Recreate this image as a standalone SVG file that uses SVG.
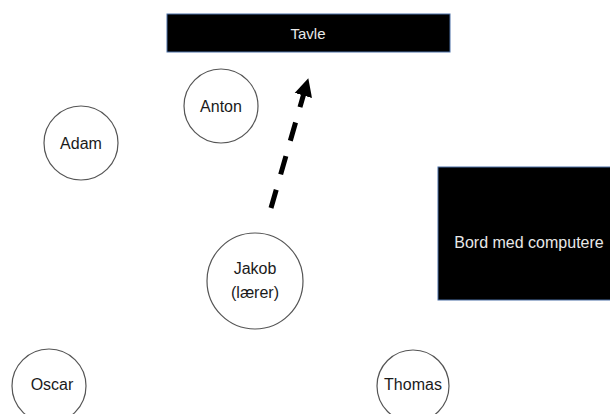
<svg xmlns="http://www.w3.org/2000/svg" width="610" height="414" viewBox="0 0 610 414">
  <style>
    .seat circle { fill: #ffffff; stroke: #555555; stroke-width: 1.2; }
    .seat text { font-family: "Liberation Sans", Arial, sans-serif; font-size: 16px; fill: #1a1a1a; text-anchor: middle; dominant-baseline: central; }
    .block rect { fill: #000000; stroke: #4a6fa5; stroke-width: 1; }
    .block text { font-family: "Liberation Sans", Arial, sans-serif; fill: #e8e8e8; text-anchor: middle; dominant-baseline: central; }
    .move { stroke: #000000; stroke-width: 5; fill: none; stroke-dasharray: 19 16; }
  </style>
  <defs>
    <marker id="head" markerUnits="userSpaceOnUse" viewBox="0 0 18 20" refX="1" refY="10" markerWidth="18" markerHeight="20" orient="auto">
      <path d="M0,1 L18,10 L0,19 Z" fill="#000000"/>
    </marker>
  </defs>
  <rect width="610" height="414" fill="#ffffff"/>

  <!-- blackboard -->
  <g id="tavle" class="block">
    <rect x="167" y="14" width="283" height="38"/>
    <text x="308" y="33" font-size="15">Tavle</text>
  </g>

  <!-- computer table, runs off the right edge -->
  <g id="bord" class="block">
    <rect x="438" y="167" width="182" height="133"/>
    <text x="529" y="242" font-size="16">Bord med computere</text>
  </g>

  <!-- people -->
  <g id="anton" class="seat">
    <circle cx="221" cy="106" r="37"/>
    <text x="221" y="106">Anton</text>
  </g>
  <g id="adam" class="seat">
    <circle cx="81" cy="143" r="37"/>
    <text x="81" y="143">Adam</text>
  </g>
  <g id="jakob" class="seat">
    <circle cx="255" cy="281" r="48"/>
    <text x="255" y="268">Jakob</text>
    <text x="255" y="292">(lærer)</text>
  </g>
  <g id="oscar" class="seat">
    <circle cx="49" cy="386" r="37"/>
    <text x="52" y="384">Oscar</text>
  </g>
  <g id="thomas" class="seat">
    <circle cx="413" cy="386" r="36"/>
    <text x="413" y="384">Thomas</text>
  </g>

  <!-- teacher's walk to the board -->
  <g id="connectors">
    <line class="move" x1="271" y1="208" x2="303.6" y2="94.5" marker-end="url(#head)"/>
  </g>
</svg>
